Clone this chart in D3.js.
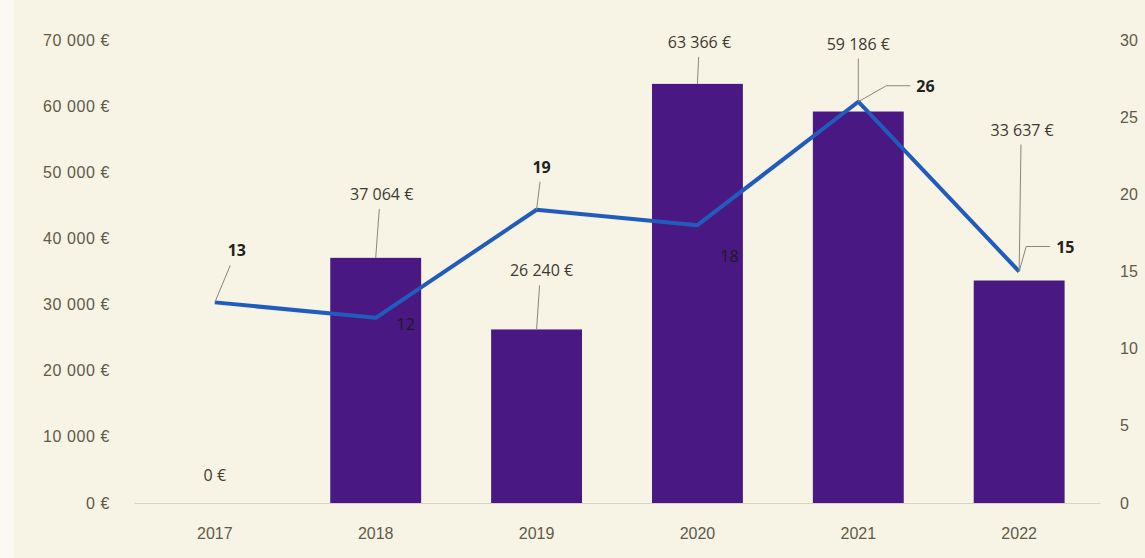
<!DOCTYPE html>
<html>
<head>
<meta charset="utf-8">
<script src="https://cdn.jsdelivr.net/npm/d3@7"></script>
<style>
  body { margin: 0; background: #f7f3e5; }
  svg { display: block; font-family: "Open Sans", "Noto Sans", sans-serif; }
</style>
</head>
<body>
<svg id="chart" width="1145" height="558"></svg>
<script>
// chart data
const years = ['2017', '2018', '2019', '2020', '2021', '2022'];
const amounts = [0, 37064, 26240, 63366, 59186, 33637];
const counts = [13, 12, 19, 18, 26, 15];
const leftTicks = [0, 10000, 20000, 30000, 40000, 50000, 60000, 70000];
const rightTicks = [0, 5, 10, 15, 20, 25, 30];

const svg = d3.select('#chart');
const w = 1145, h = 558;
const m = { top: 40, right: 45, bottom: 55, left: 134 };
const axisCol = '#5e5b49';
const fs = '16px';

// lighter strip at the left edge like the scan
svg.append('rect').attr('x', 0).attr('y', 0).attr('width', 14).attr('height', h).attr('fill', '#fbf9f2');

const x = d3.scaleBand().domain(years).range([m.left, w - m.right]).paddingInner(0.435).paddingOuter(0.22);
const yL = d3.scaleLinear().domain([0, 70000]).range([h - m.bottom, m.top]);
const yR = d3.scaleLinear().domain([0, 30]).range([h - m.bottom, m.top]);

const fmt = v => d3.format(',')(v).replace(/,/g, ' ') + ' €';

// left axis
const leftAxis = svg.append('g')
  .attr('transform', `translate(${m.left - 24},0)`)
  .call(d3.axisLeft(yL).tickValues(leftTicks).tickSize(0).tickPadding(0).tickFormat(fmt));
leftAxis.select('.domain').remove();
leftAxis.selectAll('text').attr('fill', axisCol).style('font-size', fs).style('letter-spacing', '0.6px');

// right axis
const rightAxis = svg.append('g')
  .attr('transform', `translate(${w - m.right + 20},0)`)
  .call(d3.axisRight(yR).tickValues(rightTicks).tickSize(0).tickPadding(0));
rightAxis.select('.domain').remove();
rightAxis.selectAll('text').attr('fill', axisCol).style('font-size', fs);

// x axis
const xAxis = svg.append('g')
  .attr('transform', `translate(0,${h - m.bottom})`)
  .call(d3.axisBottom(x).tickSize(0).tickPadding(25));
xAxis.select('.domain').attr('stroke', '#d6d2c4').attr('stroke-width', 1.2);
xAxis.selectAll('text').attr('fill', axisCol).style('font-size', fs);

// bars
svg.append('g').selectAll('rect')
  .data(years)
  .join('rect')
  .attr('x', d => x(d))
  .attr('y', (d, i) => yL(amounts[i]))
  .attr('width', x.bandwidth())
  .attr('height', (d, i) => yL(0) - yL(amounts[i]))
  .attr('fill', '#4a1883');

// line
const line = d3.line()
  .x((d, i) => x(years[i]) + x.bandwidth() / 2)
  .y(d => yR(d));
svg.append('path')
  .datum(counts)
  .attr('d', line)
  .attr('fill', 'none')
  .attr('stroke', '#215cbd')
  .attr('stroke-width', 4)
  .attr('stroke-linejoin', 'round');

const cx = i => x(years[i]) + x.bandwidth() / 2;
const leader = svg.append('g').attr('fill', 'none').attr('stroke', '#8a877c').attr('stroke-width', 1);
const labels = svg.append('g');

// bar value labels
const barLab = [
  { dx: 0, dy: -22, lead: false },
  { dx: 6, dy: -58, lead: true },
  { dx: 5, dy: -53, lead: true },
  { dx: 2, dy: -36, lead: true },
  { dx: 0, dy: -62, lead: true },
  { dx: 3, dy: -145, lead: true }
];
amounts.forEach((v, i) => {
  const bx = cx(i), by = yL(v);
  const o = barLab[i];
  labels.append('text')
    .attr('x', bx + o.dx).attr('y', by + o.dy)
    .attr('text-anchor', 'middle')
    .attr('fill', '#3d3b31')
    .style('font-size', fs)
    .text(fmt(v));
  if (o.lead) {
    let endY = by;
    if (i === 4) endY = yR(counts[4]);
    if (i === 5) endY = yR(counts[5]);
    leader.append('path').attr('d', `M${bx + o.dx * 0.6},${by + o.dy + 9} L${bx},${endY}`);
  }
});

// line value labels
const lineLab = [
  { dx: 22, dy: -46, bold: true, lead: true, anchor: 'middle' },
  { dx: 30, dy: 12, bold: false, lead: false, anchor: 'middle' },
  { dx: 5, dy: -37, bold: true, lead: true, anchor: 'middle' },
  { dx: 32, dy: 37, bold: false, lead: false, anchor: 'middle' },
  { dx: 58, dy: -10, bold: true, lead: true, anchor: 'start' },
  { dx: 37, dy: -19, bold: true, lead: true, anchor: 'start' }
];
counts.forEach((v, i) => {
  const px = cx(i), py = yR(v);
  const o = lineLab[i];
  labels.append('text')
    .attr('x', px + o.dx).attr('y', py + o.dy)
    .attr('text-anchor', o.anchor)
    .attr('fill', o.bold ? '#23221d' : '#1e1a22')
    .style('font-size', fs)
    .style('font-weight', o.bold ? 700 : 400)
    .text(v);
  if (o.lead) {
    if (o.anchor === 'start') {
      leader.append('path').attr('d', `M${px},${py} L${px + o.dx - 30},${py + o.dy - 6} L${px + o.dx - 6},${py + o.dy - 6}`);
    } else {
      leader.append('path').attr('d', `M${px},${py} L${px + o.dx * 0.7},${py + o.dy + 9}`);
    }
  }
});
</script>
</body>
</html>
